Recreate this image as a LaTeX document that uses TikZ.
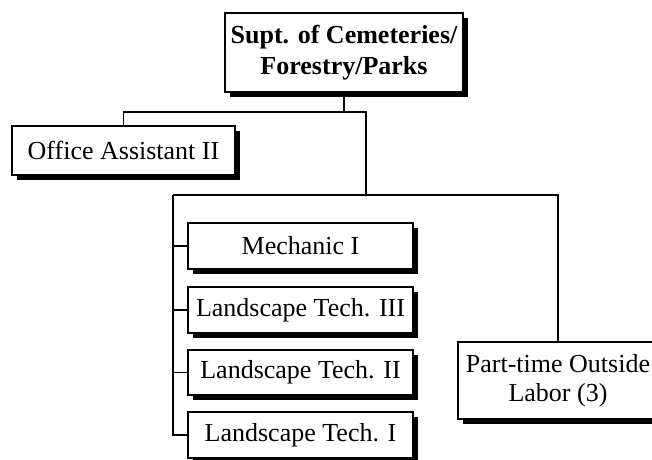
\documentclass[tikz,border=0pt]{standalone}
\usepackage{fontspec}
\setmainfont{Liberation Serif}
\usetikzlibrary{shadows}
\begin{document}
\begin{tikzpicture}[x=1pt,y=-1pt,
  box/.style={draw, line width=1.6pt, fill=white, inner sep=0pt, align=center,
    font=\fontsize{26}{29}\selectfont,
    drop shadow={shadow xshift=4.5pt, shadow yshift=-4.5pt, fill=black, opacity=1}},
  headbox/.style={box, font=\fontsize{26}{31}\selectfont\bfseries,
    drop shadow={shadow xshift=5pt, shadow yshift=-5pt, fill=black, opacity=1}},
  link/.style={line width=1.6pt}]
\useasboundingbox (0,0) rectangle (652,459);

% boxes
\node[headbox, minimum width=238pt, minimum height=79pt] (supt) at (344,52.5)
  {Supt. of Cemeteries/\\Forestry/Parks};
\node[box, minimum width=223pt, minimum height=49pt] (office) at (123.5,150.5)
  {Office Assistant II};
\node[box, minimum width=225pt, minimum height=46pt] (mech) at (300.5,246)
  {Mechanic I};
\node[box, minimum width=225pt, minimum height=46pt] (lt3) at (300.5,310)
  {Landscape Tech. III};
\node[box, minimum width=225pt, minimum height=45pt] (lt2) at (300.5,372.5)
  {Landscape Tech. II};
\node[box, minimum width=225pt, minimum height=46pt] (lt1) at (300.5,435)
  {Landscape Tech. I};
\node[box, minimum width=200pt, minimum height=77pt] (part) at (558,380.5)
  {Part-time Outside\\Labor (3)};

% junctions
\coordinate (j1) at (344,112);
\coordinate (j2) at (366,112);
\coordinate (j3) at (366,195);
\coordinate (j4) at (173,195);

% connectors
\draw[link] (supt.south) -- (j1);
\draw[link] (office.north) |- (j2) -- (j3);
\draw[link] (j4) -- (j3) -| (part.north);
\draw[link] (j4) |- (mech.west);
\draw[link] (j4) |- (lt3.west);
\draw[link] (j4) |- (lt2.west);
\draw[link] (j4) |- (lt1.west);
\end{tikzpicture}
\end{document}
